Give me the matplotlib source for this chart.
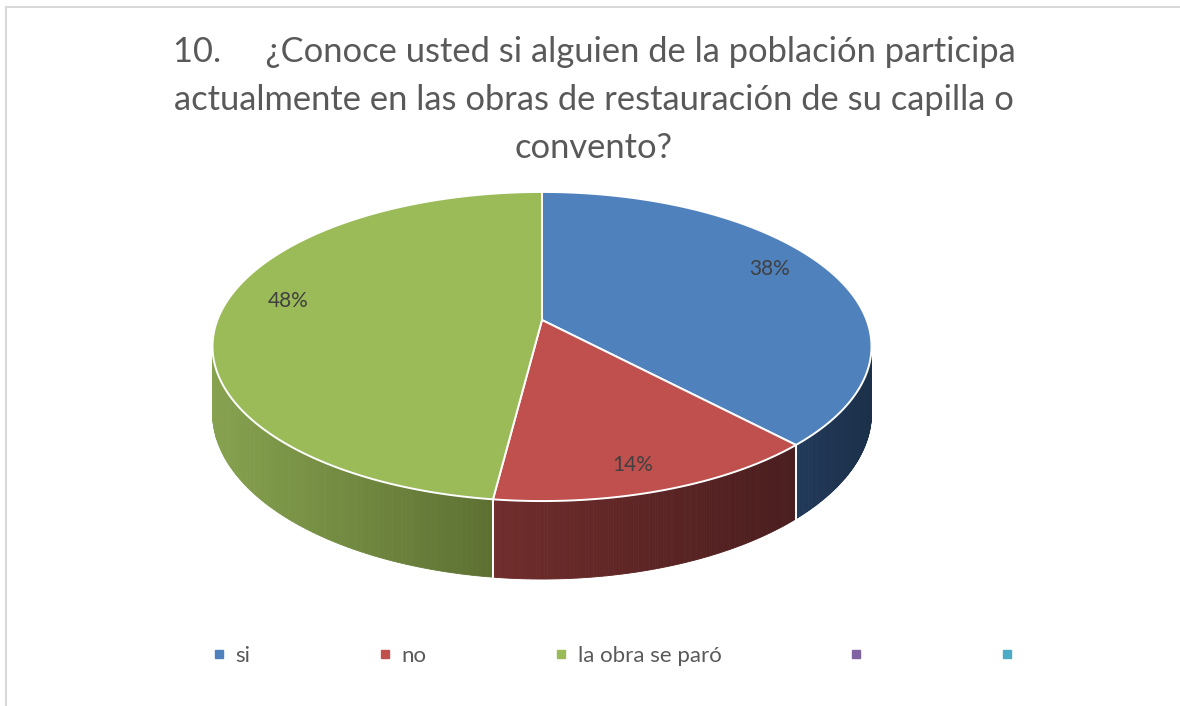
import numpy as np
import matplotlib
matplotlib.use("Agg")
import matplotlib.pyplot as plt
from matplotlib.patches import Polygon
from matplotlib.lines import Line2D

# datos
categorias = ["si", "no", "la obra se paró", "", ""]
porcentajes = [38, 14, 48, 0, 0]
etiquetas = ["38%", "14%", "48%"]
titulo = ("10.     ¿Conoce usted si alguien de la población participa\n"
          "actualmente en las obras de restauración de su capilla o\n"
          "convento?")

colores = ["#4F81BD", "#C0504D", "#9BBB59", "#8064A2", "#4BACC6"]
# colores de la pared lateral (izquierda -> derecha)
pared = [("#21395a", "#1c3049"), ("#702d2c", "#4a1d1e"), ("#86a24f", "#5d7032"),
         ("#4a3a60", "#3a2d4c"), ("#2c6575", "#24525f")]
# ajuste vertical de las etiquetas (px)
etiq_dy = [-9, 16, -12]

plt.rcParams["font.family"] = ["Lato", "DejaVu Sans"]

# geometría del pie 3D (perspectiva)
CX, CY = 542, 320
A, B, K = 324.6, 150.0, 0.1715
D = 64.6


def proj(t, r=1.0, depth=0.0):
    u = r * np.cos(t)
    v = r * np.sin(t)
    w = 1 + K * v
    return CX + A * u / w, CY - B * v / w + depth / w


fig = plt.figure(figsize=(11.8, 7.06), dpi=100)
ax = fig.add_axes([0, 0, 1, 1])
ax.set_xlim(0, 1180)
ax.set_ylim(706, 0)
ax.axis("off")

# borde
ax.plot([6, 6], [7, 706], color="#d9d9d9", lw=1.5)
ax.plot([6, 1180], [7, 7], color="#d9d9d9", lw=1.5)

total = sum(porcentajes)
ang = [np.pi / 2]
for p in porcentajes:
    ang.append(ang[-1] - 2 * np.pi * p / total)

# rango visible de la pared (frente)
t_min, t_max = -np.pi - np.arcsin(K), -np.arcsin(K)

# paredes laterales
for i, p in enumerate(porcentajes):
    if p == 0:
        continue
    a0, a1 = ang[i + 1], ang[i]
    lo, hi = max(a0, t_min), min(a1, t_max)
    if lo >= hi:
        continue
    ts = np.linspace(hi, lo, 120)
    xs, _ = proj(ts)
    x_left, x_right = xs.min(), xs.max()
    c0 = np.array(matplotlib.colors.to_rgb(pared[i][0]))
    c1 = np.array(matplotlib.colors.to_rgb(pared[i][1]))
    for j in range(len(ts) - 1):
        xa, ya = proj(ts[j])
        xb, yb = proj(ts[j + 1])
        xa2, ya2 = proj(ts[j], depth=D)
        xb2, yb2 = proj(ts[j + 1], depth=D)
        f = ((xa + xb) / 2 - x_left) / max(x_right - x_left, 1)
        c = c0 + (c1 - c0) * f
        ax.add_patch(Polygon([[xa, ya], [xb, yb], [xb2, yb2], [xa2, ya2]],
                             closed=True, facecolor=c, edgecolor=c, lw=0.6))
    # separadores blancos
    for tb in (a0, a1):
        if t_min < tb < t_max:
            x1, y1 = proj(tb)
            x2, y2 = proj(tb, depth=D)
            ax.plot([x1, x2], [y1, y2], color="white", lw=1.3)

# cara superior
for i, p in enumerate(porcentajes):
    if p == 0:
        continue
    ts = np.linspace(ang[i], ang[i + 1], 200)
    xs, ys = proj(ts)
    pts = [[CX, CY]] + list(zip(xs, ys))
    ax.add_patch(Polygon(pts, closed=True, facecolor=colores[i],
                         edgecolor="white", lw=1.4, joinstyle="round"))

# etiquetas de datos
for i, lab in enumerate(etiquetas):
    tm = (ang[i] + ang[i + 1]) / 2
    x, y = proj(tm, r=0.79)
    ax.text(x, y + etiq_dy[i], lab, ha="center", va="center", fontsize=15,
            color="#404040")

# título
ax.text(594, 100, titulo, ha="center", va="center", fontsize=24.8,
        color="#595959", linespacing=1.6)

# leyenda
handles = [Line2D([], [], marker="s", ls="none", color=c, markersize=6)
           for c in colores]
ax.legend(handles, categorias, loc="center", bbox_to_anchor=(0.524, 1 - 656 / 706),
          ncol=5, frameon=False, fontsize=16, handlelength=0.5,
          handletextpad=0.5, columnspacing=5.8, labelcolor="#595959")

plt.savefig("out.png", dpi=100)
